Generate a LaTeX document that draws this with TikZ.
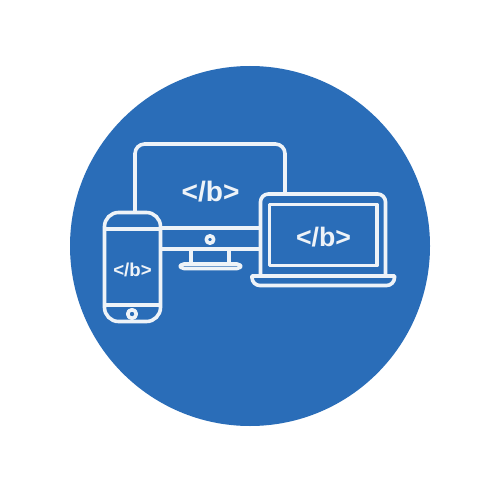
\documentclass[tikz,border=0pt]{standalone}
\usepackage{fontspec}
\setmainfont{Liberation Sans}
\usepackage{xcolor}
\definecolor{discblue}{HTML}{2A6DB8}
\definecolor{lineice}{HTML}{EEF3F8}
\tikzset{
    outline/.style={draw=lineice, line width=2.05pt, line join=round},
    tag/.style={text=lineice, inner sep=0pt},
}

\begin{document}
\begin{tikzpicture}[x=0.02cm, y=-0.02cm]
    \useasboundingbox (0,0) rectangle (500,500);
    % Disco de fondo
    \fill[discblue] (250,246) circle (180);

    % Monitor
    \draw[outline, rounded corners=5.5pt] (135,212) -- (135,144) -- (285,144) -- (285,193);
    \draw[outline] (161,228) -- (260,228);
    \draw[outline] (161,249) -- (260,249);
    \draw[outline] (210,239.5) circle (3.7);
    \draw[outline] (191,249) -- (191,264);
    \draw[outline] (229,249) -- (229,264);
    \draw[outline, rounded corners=1.9pt] (180.5,264) rectangle (240.5,268.5);
    \node[tag, font=\fontsize{16}{18}\selectfont\bfseries] (monitortag) at (210.5,191.5) {</b>};

    % Movil
    \draw[outline, rounded corners=8pt] (104.5,212.5) rectangle (160.5,321.5);
    \draw[outline] (104.5,229) -- (160.5,229);
    \draw[outline] (104.5,305) -- (160.5,305);
    \draw[outline] (132,314) circle (4.3);
    \node[tag, font=\fontsize{10.6}{12}\selectfont\bfseries] (phonetag) at (132.5,269.5) {</b>};

    % Portatil
    \draw[outline, rounded corners=4.5pt] (260.5,276) -- (260.5,194) -- (385.5,194) -- (385.5,276);
    \draw[outline] (269.5,204.5) rectangle (377,265.5);
    \draw[outline] (252,276) -- (394.5,276) [rounded corners=4.5pt] -- (394.5,285.5) -- (252,285.5) [sharp corners] -- cycle;
    \node[tag, font=\fontsize{15.2}{17}\selectfont\bfseries] (laptoptag) at (323.5,237.5) {</b>};
\end{tikzpicture}
\end{document}
